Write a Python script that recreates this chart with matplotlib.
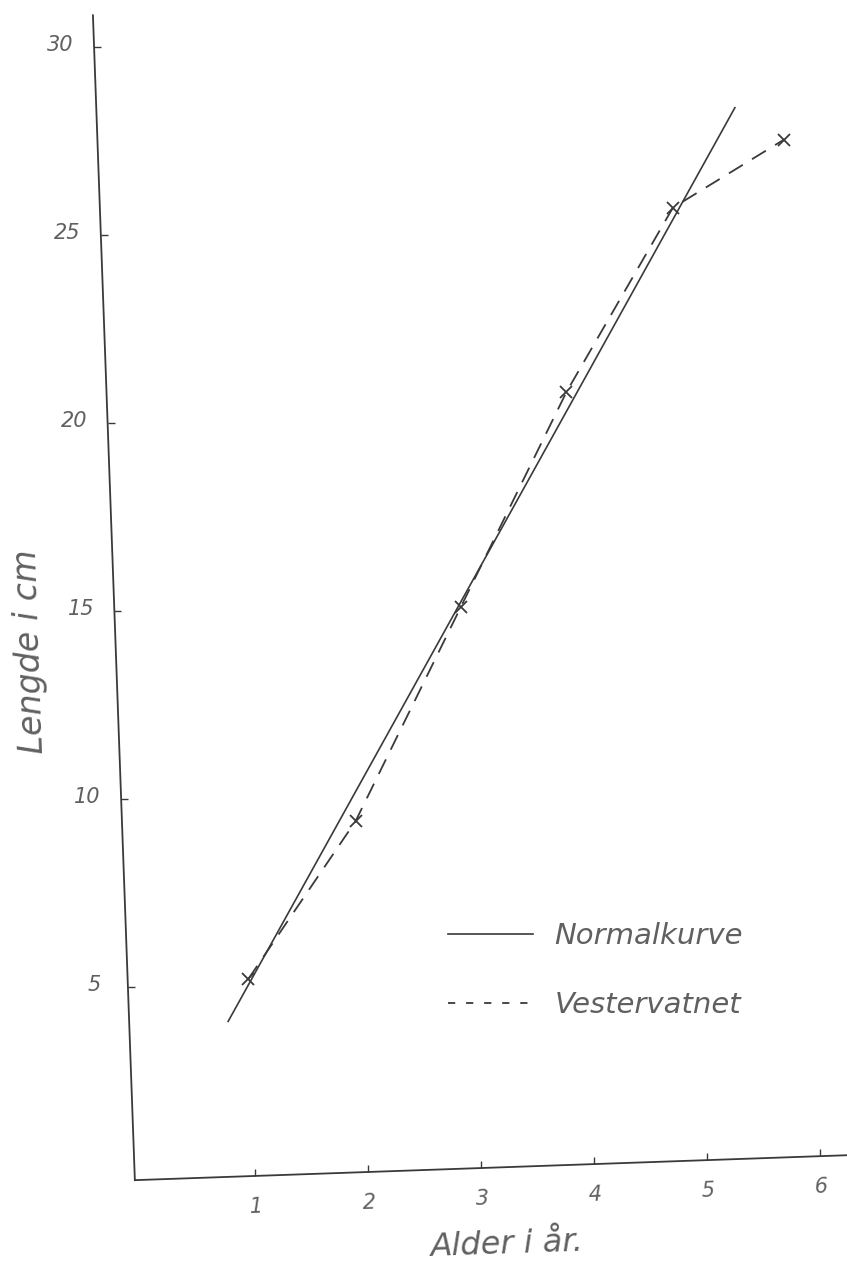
import matplotlib
matplotlib.use("Agg")
import matplotlib.pyplot as plt
from matplotlib.lines import Line2D
from matplotlib.transforms import Affine2D

# ── data ─────────────────────────────────────────────────────────────────────
age_vest = [1, 2, 3, 4, 5, 6]
length_vest = [5.1, 9.2, 14.8, 20.4, 25.2, 26.9]

age_norm = [0.81, 5.58]          # normal curve drawn as a straight line
length_norm = [4.0, 27.8]

x_ticks = [1, 2, 3, 4, 5, 6]
y_ticks = [5, 10, 15, 20, 25, 30]

INK = "#3a3a3a"
PENCIL = "#606060"
FONT = dict(family="DejaVu Sans", style="italic", color=PENCIL)

fig = plt.figure(figsize=(8.47, 12.61), dpi=100)
ax = fig.add_axes([0, 0, 1, 1])
ax.set_xlim(-1.257, 6.239)
ax.set_ylim(-2.287, 31.25)
ax.axis("off")

# the paper drawing is slightly sheared: y-axis leans left, x-axis rises
shear = Affine2D().from_values(1, 0.035, -0.036, 1, 0.036 * 86, -0.035 * 142)
tr = ax.transData + shear

# axes, drawn by hand
ax.plot([-0.065, -0.065], [-0.13, 30.85], color=INK, lw=1.3, transform=tr, clip_on=False)
ax.plot([-0.065, 6.3], [-0.13, -0.13], color=INK, lw=1.3, transform=tr, clip_on=False)
ax.plot(x_ticks, [-0.13] * len(x_ticks), ls="none", marker=2, ms=5, mew=1.0,
        color=INK, transform=tr)
ax.plot([-0.065] * len(y_ticks), y_ticks, ls="none", marker=1, ms=5, mew=1.0,
        color=INK, transform=tr)

for v in x_ticks:
    ax.text(v, -0.95, str(v), ha="center", va="center", fontsize=15,
            rotation=2, transform=tr, **FONT)
for v in y_ticks:
    ax.text(-0.36, v + 0.1, str(v), ha="center", va="center", fontsize=15,
            transform=tr, **FONT)

ax.text(3.2, -2.2, "Alder i år.", ha="center", va="center", fontsize=23,
        rotation=2, transform=tr, **FONT)
ax.text(-0.82, 14.0, "Lengde i cm", ha="center", va="center", fontsize=24,
        rotation=92, transform=tr, **FONT)

# curves
ax.plot(age_norm, length_norm, color=INK, lw=1.2, transform=tr, clip_on=False)
ax.plot(age_vest, length_vest, color=INK, lw=1.3, ls=(0, (9, 6)),
        transform=tr, clip_on=False)
ax.plot(age_vest, length_vest, ls="none", marker="x", ms=9, mew=1.3,
        color=INK, transform=tr, clip_on=False)

handles = [
    Line2D([], [], color=INK, lw=1.2, label="Normalkurve"),
    Line2D([], [], color=INK, lw=1.3, ls=(0, (4, 6)), label="Vestervatnet"),
]
ax.legend(handles=handles, loc="upper left", bbox_to_anchor=(448 / 847, 1 - 922 / 1261),
          bbox_transform=fig.transFigure, frameon=False, borderpad=0, borderaxespad=0,
          handlelength=2.9, handletextpad=0.75, labelspacing=1.4,
          prop=dict(family="DejaVu Sans", style="italic", size=21), labelcolor=PENCIL)

fig.savefig("out.png", dpi=100, facecolor="white")
